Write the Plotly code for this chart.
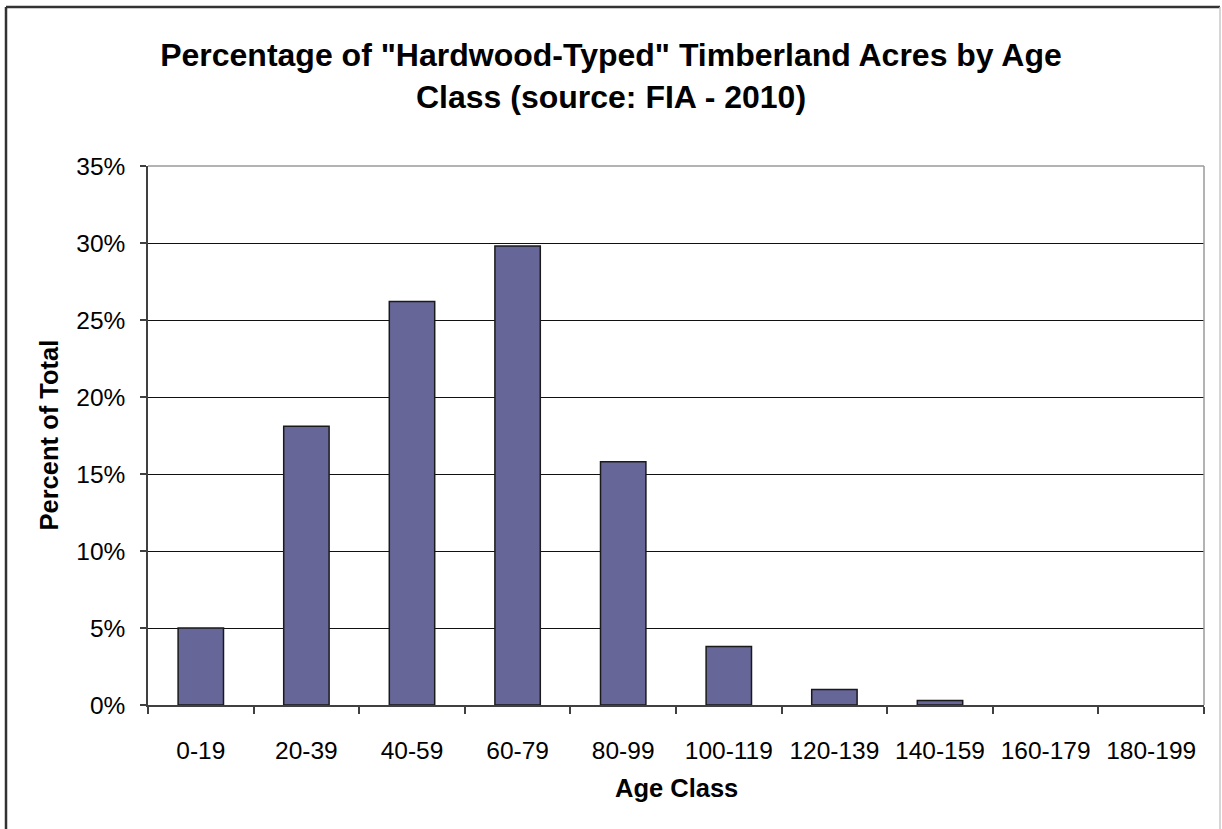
import plotly.graph_objects as go

# Age classes (years) and share of hardwood-typed timberland acres (percent)
age_classes = ["0-19", "20-39", "40-59", "60-79", "80-99",
               "100-119", "120-139", "140-159", "160-179", "180-199"]
percent_of_total = [5.0, 18.1, 26.2, 29.8, 15.8, 3.8, 1.0, 0.3, 0.0, 0.0]

y_ticks = [0, 5, 10, 15, 20, 25, 30, 35]
y_tick_labels = [f"{v}%" for v in y_ticks]

FONT = "Liberation Sans, Arial, sans-serif"
AXIS_DARK = "#404040"

# empty classes get no outline so nothing is drawn on the baseline
outline_widths = [1.5 if v > 0 else 0 for v in percent_of_total]

fig = go.Figure(
    go.Bar(
        x=age_classes,
        y=percent_of_total,
        marker=dict(color="#666699", line=dict(color="#1a1a1a", width=outline_widths)),
        hoverinfo="x+y",
    )
)

fig.update_layout(
    width=1222,
    height=829,
    margin=dict(l=148, r=18, t=166, b=124),
    paper_bgcolor="white",
    plot_bgcolor="white",
    bargap=0.57,
    showlegend=False,
    font=dict(family=FONT, color="black"),
    title=dict(
        text='Percentage of "Hardwood-Typed" Timberland Acres by Age<br>Class (source: FIA - 2010)',
        font=dict(family=FONT, size=32, color="black", weight="bold"),
        x=0.5,
        xanchor="center",
        xref="container",
        y=1 - 66 / 829,
        yanchor="middle",
        yref="container",
    ),
    xaxis=dict(
        type="category",
        tickson="boundaries",
        ticks="outside",
        ticklen=7,
        tickcolor=AXIS_DARK,
        tickwidth=1.5,
        showline=True,
        linecolor=AXIS_DARK,
        linewidth=1.5,
        showgrid=False,
        tickfont=dict(family=FONT, size=24.5, color="black"),
        ticklabelstandoff=23,
        fixedrange=True,
    ),
    yaxis=dict(
        range=[0, 35],
        tickvals=y_ticks,
        ticktext=y_tick_labels,
        ticks="outside",
        ticklen=6,
        tickcolor=AXIS_DARK,
        tickwidth=1.5,
        showline=True,
        linecolor=AXIS_DARK,
        linewidth=1.5,
        showgrid=True,
        gridcolor="#111111",
        gridwidth=1,
        zeroline=False,
        tickfont=dict(family=FONT, size=24.5, color="black"),
        ticklabelstandoff=10,
        fixedrange=True,
    ),
    annotations=[
        dict(
            text="Age Class",
            xref="paper", yref="paper",
            x=0.5, y=0,
            xanchor="center", yanchor="middle",
            yshift=-(788 - 705),
            showarrow=False,
            font=dict(family=FONT, size=25.5, color="black", weight="bold"),
        ),
        dict(
            text="Percent of Total",
            xref="paper", yref="paper",
            x=0, y=0.5,
            xanchor="center", yanchor="middle",
            xshift=-(148 - 48),
            textangle=-90,
            showarrow=False,
            font=dict(family=FONT, size=25.5, color="black", weight="bold"),
        ),
    ],
    shapes=[
        # plot-area frame: top and right edges in light grey
        dict(type="line", xref="paper", yref="paper", x0=0, x1=1, y0=1, y1=1,
             line=dict(color="#9a9a9a", width=1.5), layer="above"),
        dict(type="line", xref="paper", yref="paper", x0=1, x1=1, y0=0, y1=1,
             line=dict(color="#9a9a9a", width=1.5), layer="above"),
        # chart border: dark left and top, light right edge
        dict(type="line", xref="paper", yref="paper", xsizemode="pixel", ysizemode="pixel",
             xanchor=0, yanchor=0, x0=6 - 148, x1=6 - 148, y0=-130, y1=705 - 7,
             line=dict(color="#333333", width=2.5)),
        dict(type="line", xref="paper", yref="paper", xsizemode="pixel", ysizemode="pixel",
             xanchor=0, yanchor=0, x0=6 - 148, x1=1220 - 148, y0=705 - 7, y1=705 - 7,
             line=dict(color="#333333", width=2.5)),
        dict(type="line", xref="paper", yref="paper", xsizemode="pixel", ysizemode="pixel",
             xanchor=0, yanchor=0, x0=1220 - 148, x1=1220 - 148, y0=-130, y1=705 - 7,
             line=dict(color="#c8c8c8", width=1.5)),
    ],
)

fig.write_html("out.html", config={"displayModeBar": False})
